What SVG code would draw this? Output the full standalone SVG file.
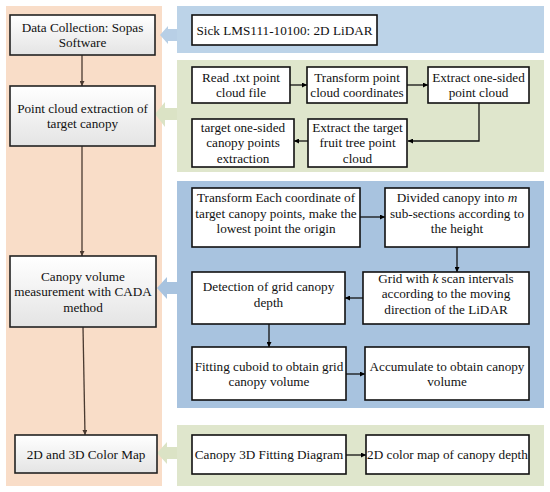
<svg xmlns="http://www.w3.org/2000/svg" width="550" height="492" viewBox="0 0 550 492">
<defs>
<linearGradient id="gbox" x1="0" y1="0" x2="0" y2="1">
<stop offset="0" stop-color="#ffffff"/>
<stop offset="1" stop-color="#e4e4e4"/>
</linearGradient>
<marker id="ah" viewBox="0 0 6 6" refX="6" refY="3" markerWidth="5" markerHeight="5" orient="auto" markerUnits="userSpaceOnUse">
<path d="M0,0 L6,3 L0,6 z" fill="#000"/>
</marker>
<marker id="ahg" viewBox="0 0 6 6" refX="6" refY="3" markerWidth="5" markerHeight="5" orient="auto" markerUnits="userSpaceOnUse">
<path d="M0,0 L6,3 L0,6 z" fill="#4a3a30"/>
</marker>
</defs>
<style>
text{font-family:"Liberation Serif","Times New Roman",serif;font-size:13.2px;fill:#111;text-anchor:middle}
.lb{fill:url(#gbox);stroke:#222;stroke-width:1.6}
.rb{fill:#fff;stroke:#111;stroke-width:1.6}
.c{fill:none;stroke:#111;stroke-width:1.3;marker-end:url(#ah)}
.cl{fill:none;stroke:#4a3a30;stroke-width:1.3;marker-end:url(#ahg)}
.blue{fill:#a8c3df}
.green{fill:#dbe3c5}
</style>
<rect width="550" height="492" fill="#fff"/>
<!-- panels -->
<rect x="6" y="6" width="156" height="480" fill="#f9ddc8"/>
<rect x="177" y="6" width="367" height="47" fill="#bcd3e8"/>
<rect x="177" y="60" width="367" height="112" fill="#dfe6cc"/>
<rect x="177" y="181" width="367" height="227" fill="#a8c3df"/>
<rect x="177" y="425" width="367" height="61" fill="#dfe6cc"/>
<!-- big arrows -->
<polygon class="blue" points="160,35 168,26 168,29 177,29 177,41 168,41 168,44" style="fill:#b8cfe6"/>
<polygon class="green" points="155,114 165,102 165,108 177,108 177,120 165,120 165,127"/>
<polygon class="blue" points="157,288 167,277 167,282 177,282 177,294 167,294 167,299"/>
<polygon class="green" points="157,453 167,442 167,447 177,447 177,459 167,459 167,464"/>
<!-- connectors -->
<g id="connectors">
<line class="cl" x1="82" y1="55" x2="82" y2="86"/>
<line class="cl" x1="82" y1="146" x2="82" y2="256"/>
<line class="cl" x1="83" y1="327" x2="85" y2="435"/>
<line class="c" x1="290" y1="85" x2="307" y2="85"/>
<line class="c" x1="407" y1="85" x2="428" y2="85"/>
<polyline class="c" points="479,103 479,141 408,141"/>
<line class="c" x1="308" y1="141" x2="294" y2="141"/>
<line class="c" x1="360" y1="217" x2="385" y2="217"/>
<line class="c" x1="457" y1="247" x2="457" y2="272"/>
<line class="c" x1="363" y1="298" x2="345" y2="298"/>
<line class="c" x1="269" y1="324" x2="269" y2="347"/>
<line class="c" x1="346" y1="374" x2="365" y2="374"/>
<line class="c" x1="346" y1="455" x2="366" y2="455"/>
</g>
<!-- left nodes -->
<g id="n-data">
<rect class="lb" x="10" y="15" width="145" height="40"/>
<text x="82.5" y="31.5">Data Collection: Sopas</text>
<text x="82.5" y="47">Software</text>
</g>
<g id="n-pointcloud">
<rect class="lb" x="10" y="86" width="145" height="60"/>
<text x="82.5" y="112.5">Point cloud extraction of</text>
<text x="82.5" y="128">target canopy</text>
</g>
<g id="n-volume">
<rect class="lb" x="10" y="256" width="146" height="71"/>
<text x="83" y="280.5">Canopy volume</text>
<text x="83" y="296">measurement with CADA</text>
<text x="83" y="311.5">method</text>
</g>
<g id="n-colormap">
<rect class="lb" x="15" y="435" width="142" height="38"/>
<text x="86" y="458.5">2D and 3D Color Map</text>
</g>
<!-- right nodes -->
<g id="n-sick">
<rect class="rb" x="192" y="15" width="185" height="30"/>
<text x="284.5" y="34.5">Sick LMS111-10100: 2D LiDAR</text>
</g>
<g id="n-read">
<rect class="rb" x="192" y="67" width="98" height="36"/>
<text x="241" y="81.5">Read .txt point</text>
<text x="241" y="97">cloud file</text>
</g>
<g id="n-transform">
<rect class="rb" x="307" y="67" width="100" height="36"/>
<text x="357" y="81.5">Transform point</text>
<text x="357" y="97">cloud coordinates</text>
</g>
<g id="n-extract1">
<rect class="rb" x="428" y="67" width="101" height="36"/>
<text x="478.5" y="81.5">Extract one-sided</text>
<text x="478.5" y="97">point cloud</text>
</g>
<g id="n-target">
<rect class="rb" x="192" y="119" width="102" height="48"/>
<text x="243" y="131.5">target one-sided</text>
<text x="243" y="147">canopy points</text>
<text x="243" y="162.5">extraction</text>
</g>
<g id="n-fruit">
<rect class="rb" x="308" y="119" width="99" height="48"/>
<text x="357.5" y="131.5">Extract the target</text>
<text x="357.5" y="147">fruit tree point</text>
<text x="357.5" y="162.5">cloud</text>
</g>
<g id="n-coord">
<rect class="rb" x="192" y="188" width="168" height="59"/>
<text x="276" y="202">Transform Each coordinate of</text>
<text x="276" y="217.5">target canopy points, make the</text>
<text x="276" y="233">lowest point the origin</text>
</g>
<g id="n-divide">
<rect class="rb" x="385" y="188" width="144" height="59"/>
<text x="457" y="202">Divided canopy into <tspan font-style="italic">m</tspan></text>
<text x="457" y="217.5">sub-sections according to</text>
<text x="457" y="233">the height</text>
</g>
<g id="n-grid">
<rect class="rb" x="363" y="272" width="166" height="52"/>
<text x="446" y="282.5">Grid with <tspan font-style="italic">k</tspan> scan intervals</text>
<text x="446" y="298">according to the moving</text>
<text x="446" y="313.5">direction of the LiDAR</text>
</g>
<g id="n-depth">
<rect class="rb" x="192" y="272" width="153" height="52"/>
<text x="268.5" y="291">Detection of grid canopy</text>
<text x="268.5" y="306.5">depth</text>
</g>
<g id="n-fitting">
<rect class="rb" x="192" y="347" width="154" height="53"/>
<text x="269" y="370.5">Fitting cuboid to obtain grid</text>
<text x="269" y="386">canopy volume</text>
</g>
<g id="n-accumulate">
<rect class="rb" x="365" y="347" width="164" height="53"/>
<text x="447" y="370.5">Accumulate to obtain canopy</text>
<text x="447" y="386">volume</text>
</g>
<g id="n-fit3d">
<rect class="rb" x="192" y="435" width="154" height="39"/>
<text x="269" y="459">Canopy 3D Fitting Diagram</text>
</g>
<g id="n-depthmap">
<rect class="rb" x="366" y="435" width="163" height="39"/>
<text x="447.5" y="459">2D color map of canopy depth</text>
</g>
</svg>
